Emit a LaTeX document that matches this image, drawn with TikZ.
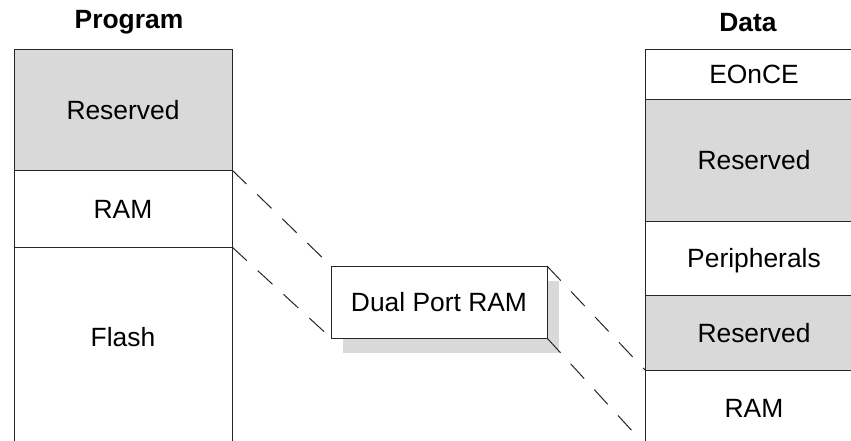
\documentclass[tikz,border=0pt]{standalone}
\usepackage{fontspec}
\setmainfont{Liberation Sans}
\usetikzlibrary{positioning,shadows}
\definecolor{resgray}{RGB}{217,217,217}
\tikzset{
  seg/.style={draw=black!85,line width=1pt,minimum width=218pt,inner sep=0pt,outer sep=0pt,
    text height=19pt,text depth=0pt,font=\fontsize{26.4}{30}\selectfont},
  resv/.style={seg,fill=resgray},
  head/.style={inner sep=0pt,text height=19pt,text depth=0pt,font=\fontsize{26.4}{30}\selectfont\bfseries},
  link/.style={draw=black!85,line width=1pt,dash pattern=on 20pt off 15pt}
}
\begin{document}
\begin{tikzpicture}[x=1pt,y=-1pt]
    \useasboundingbox (0,0) rectangle (851,440);
    \clip (0,0) rectangle (851,440);
    \node[head] (prog) at (129,18.5) {Program};
    \node[head] (data) at (748,21.5) {Data};
    % program side
    \node[resv,minimum height=121pt,anchor=north west] (pres) at (14,49) {Reserved};
    \node[seg,minimum height=77pt,below=0pt of pres] (pram) {RAM};
    \node[seg,minimum height=198pt,text depth=18pt,below=0pt of pram] (pflash) {Flash};
    % data side
    \node[seg,minimum height=50pt,anchor=north west] (deonce) at (645,49) {EOnCE};
    \node[resv,minimum height=122pt,below=0pt of deonce] (dres1) {Reserved};
    \node[seg,minimum height=74pt,below=0pt of dres1] (dper) {Peripherals};
    \node[resv,minimum height=75pt,below=0pt of dper] (dres2) {Reserved};
    \node[seg,minimum height=75pt,below=0pt of dres2] (dram) {RAM};
    % shared block
    \node[seg,fill=white,minimum width=216pt,minimum height=72pt,
        drop shadow={shadow xshift=12pt,shadow yshift=-15pt,fill=resgray,opacity=1}] (dpr) at (439,302) {Dual Port RAM};
    \draw[link] (pram.north east) -- (dpr.north west);
    \draw[link] (pram.south east) -- (dpr.south west);
    \draw[link] (dpr.north east) -- (dram.north west);
    \draw[link] (dpr.south east) -- (dram.south west);
\end{tikzpicture}
\end{document}
